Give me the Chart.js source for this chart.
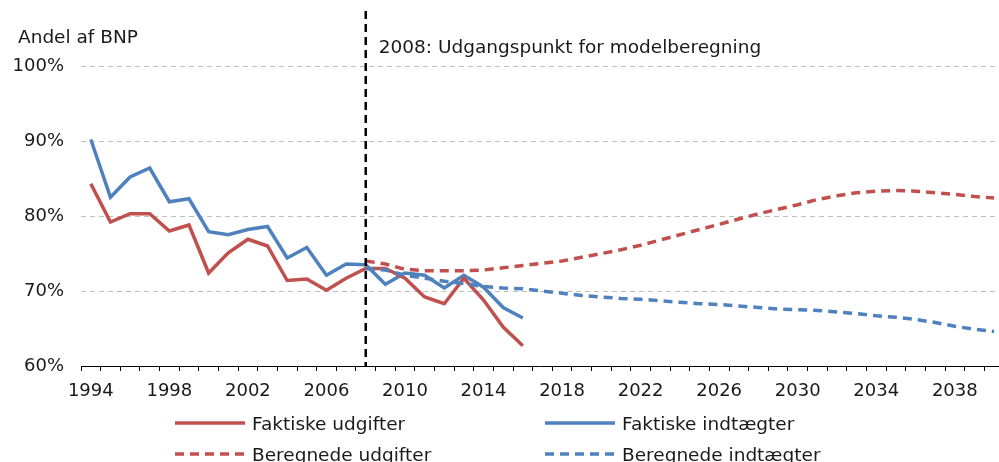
<!DOCTYPE html>
<html>
<head>
<meta charset="utf-8">
<script src="https://cdn.jsdelivr.net/npm/chart.js@4.4.1/dist/chart.umd.min.js"></script>
<style>
  html, body { margin: 0; padding: 0; background: #fff; }
  #wrap { width: 999px; height: 462px; }
</style>
</head>
<body>
<div id="wrap"><canvas id="c" width="999" height="462"></canvas></div>
<script>
// ---- data ----
const actualYears = [1994,1995,1996,1997,1998,1999,2000,2001,2002,2003,2004,2005,2006,2007,2008,2009,2010,2011,2012,2013,2014,2015,2016];
const actualExpenses = [84.3,79.2,80.3,80.3,78.0,78.8,72.4,75.1,76.9,76.0,71.4,71.6,70.1,71.7,73.0,73.0,71.7,69.2,68.3,71.7,68.8,65.2,62.7];
const actualRevenues = [90.2,82.5,85.2,86.4,81.9,82.3,77.9,77.5,78.2,78.6,74.4,75.8,72.1,73.6,73.5,70.9,72.4,72.1,70.4,72.1,70.5,67.8,66.4];

const projYears = [2008,2009,2010,2011,2012,2013,2014,2015,2016,2017,2018,2019,2020,2021,2022,2023,2024,2025,2026,2027,2028,2029,2030,2031,2032,2033,2034,2035,2036,2037,2038,2039,2040];
const projExpenses = [74.0,73.6,72.9,72.7,72.7,72.7,72.8,73.1,73.4,73.7,74.0,74.5,75.0,75.5,76.1,76.8,77.5,78.2,78.9,79.6,80.3,80.9,81.5,82.2,82.7,83.1,83.3,83.4,83.3,83.1,82.9,82.6,82.4];
const projRevenues = [73.0,72.8,72.1,71.7,71.3,71.0,70.6,70.4,70.3,70.0,69.7,69.4,69.2,69.0,68.9,68.7,68.5,68.3,68.2,68.0,67.8,67.6,67.5,67.4,67.2,67.0,66.7,66.5,66.2,65.8,65.3,64.9,64.6];

const seriesNames = ['Faktiske udgifter','Faktiske indtægter','Beregnede udgifter','Beregnede indtægter'];
const yTicks = [60,70,80,90,100];
const xLabelYears = [1994,1998,2002,2006,2010,2014,2018,2022,2026,2030,2034,2038];
const xMin = 1993.5, xMax = 2040.25;
const markerYear = 2008;
const markerText = '2008: Udgangspunkt for modelberegning';
const yTitle = 'Andel af BNP';

// ---- style ----
const RED = '#C0504D', BLUE = '#4F81BD';
const TEXT = '#1a1a1a';
const FONT = '"DejaVu Sans", Verdana, sans-serif';
const DASH = [9, 6];

function pts(xs, ys) { return xs.map((x, i) => ({ x: x, y: ys[i] })); }

const overlay = {
  id: 'overlay',
  afterDatasetsDraw(chart) {
    const ctx = chart.ctx, xs = chart.scales.x, area = chart.chartArea;
    const px = xs.getPixelForValue(markerYear);
    ctx.save();
    ctx.strokeStyle = '#000';
    ctx.lineWidth = 2.5;
    ctx.setLineDash([8, 5]);
    ctx.beginPath();
    ctx.moveTo(px, 11);
    ctx.lineTo(px, area.bottom);
    ctx.stroke();
    ctx.restore();
  },
  afterDraw(chart) {
    const ctx = chart.ctx;
    ctx.save();
    ctx.fillStyle = TEXT;
    ctx.font = '18.5px ' + FONT;
    ctx.textBaseline = 'alphabetic';
    ctx.textAlign = 'left';
    ctx.fillText(yTitle, 18, 43);
    ctx.fillText(markerText, chart.scales.x.getPixelForValue(markerYear) + 13, 53);
    // legend
    const items = [
      { label: seriesNames[0], color: RED, dash: [], x: 175, y: 423 },
      { label: seriesNames[1], color: BLUE, dash: [], x: 545, y: 423 },
      { label: seriesNames[2], color: RED, dash: DASH, x: 175, y: 454 },
      { label: seriesNames[3], color: BLUE, dash: DASH, x: 545, y: 454 }
    ];
    items.forEach(it => {
      ctx.strokeStyle = it.color;
      ctx.lineWidth = 3.5;
      ctx.setLineDash(it.dash);
      ctx.beginPath();
      ctx.moveTo(it.x, it.y);
      ctx.lineTo(it.x + 70, it.y);
      ctx.stroke();
      ctx.setLineDash([]);
      ctx.fillStyle = TEXT;
      ctx.font = '18.5px ' + FONT;
      ctx.fillText(it.label, it.x + 77, it.y + 7);
    });
    ctx.restore();
  }
};

new Chart(document.getElementById('c'), {
  type: 'line',
  data: {
    datasets: [
      { label: seriesNames[2], data: pts(projYears, projExpenses), borderColor: RED, borderWidth: 3.5, borderDash: DASH, pointRadius: 0, fill: false, tension: 0 },
      { label: seriesNames[3], data: pts(projYears, projRevenues), borderColor: BLUE, borderWidth: 3.5, borderDash: DASH, pointRadius: 0, fill: false, tension: 0 },
      { label: seriesNames[0], data: pts(actualYears, actualExpenses), borderColor: RED, borderWidth: 3.5, pointRadius: 0, fill: false, tension: 0 },
      { label: seriesNames[1], data: pts(actualYears, actualRevenues), borderColor: BLUE, borderWidth: 3.5, pointRadius: 0, fill: false, tension: 0 }
    ]
  },
  options: {
    responsive: false,
    animation: false,
    devicePixelRatio: 1,
    layout: { padding: { left: 0, right: 0, top: 66, bottom: 56 } },
    plugins: { legend: { display: false }, tooltip: { enabled: false } },
    scales: {
      x: {
        type: 'linear',
        min: xMin, max: xMax,
        afterBuildTicks(scale) {
          const t = [];
          for (let v = xMin; v < xMax; v += 1) t.push({ value: v });
          scale.ticks = t;
        },
        afterFit(scale) { scale.height = 40; },
        ticks: {
          autoSkip: false, maxRotation: 0, minRotation: 0,
          padding: 10,
          labelOffset: 9.8,
          color: TEXT,
          font: { family: FONT, size: 18 },
          callback(v) { const yr = v + 0.5; return xLabelYears.includes(yr) ? String(yr) : ''; }
        },
        grid: { display: true, drawOnChartArea: false, drawTicks: true, tickLength: 5, color: '#000', lineWidth: 1 },
        border: { display: true, color: '#000', width: 1 }
      },
      y: {
        min: 60, max: 100,
        afterBuildTicks(scale) { scale.ticks = yTicks.map(v => ({ value: v })); },
        afterFit(scale) { scale.width = 81; },
        ticks: {
          padding: 17,
          color: TEXT,
          font: { family: FONT, size: 18 },
          callback(v) { return v + '%'; }
        },
        grid: {
          drawTicks: false,
          color: (c) => (c.tick && c.tick.value === 60) ? 'rgba(0,0,0,0)' : '#BFBFBF',
          lineWidth: 1
        },
        border: { display: false, dash: [5, 4] }
      }
    }
  },
  plugins: [overlay]
});
</script>
</body>
</html>
